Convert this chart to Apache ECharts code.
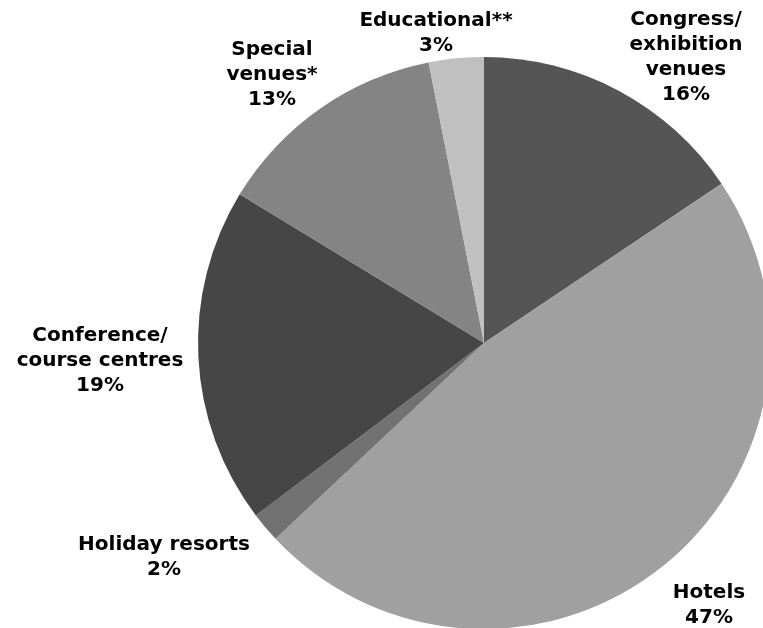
<!DOCTYPE html>
<html>
<head>
<meta charset="utf-8">
<script src="https://cdn.jsdelivr.net/npm/echarts@6/dist/echarts.min.js"></script>
<style>
	html, body { margin: 0; padding: 0; background: #fff; }
	#main { width: 763px; height: 628px; }
</style>
</head>
<body>
<div id="main"></div>
<script>
// venue categories, clockwise from 12 o'clock
var categories = ['Congress/\nexhibition\nvenues', 'Hotels', 'Holiday resorts', 'Conference/\ncourse centres', 'Special\nvenues*', 'Educational**'];
// shares (%)
var shares = [15.6, 47.4, 1.7, 19.0, 13.2, 3.1];
var colors = ['#555555', '#a0a0a0', '#727272', '#464646', '#848484', '#c0c0c0'];

// where each label block sits (centre, px)
var labelPos = [[686, 57], [709, 605], [164, 557], [100, 361], [272, 75], [436, 33]];

var myChart = echarts.init(document.getElementById('main'));
var option = {
	animation: false,
	series: [{
		type: 'pie',
		center: [484, 343],
		radius: 286,
		startAngle: 90,
		clockwise: true,
		data: categories.map(function(name, i) {
			return {
				name: name,
				value: shares[i],
				itemStyle: { color: colors[i] }
			};
		}),
		itemStyle: { borderWidth: 0 },
		label: {
			show: true,
			position: 'inside',
			overflow: 'none',
			fontFamily: 'DejaVu Sans',
			fontWeight: 'bold',
			fontSize: 20,
			lineHeight: 25,
			color: '#000',
			align: 'center',
			formatter: function(p) {
				return p.name + '\n' + Math.round(p.percent) + '%';
			}
		},
		labelLine: { show: false },
		labelLayout: function(p) {
			var pos = labelPos[p.dataIndex];
			return {
				x: pos[0],
				y: pos[1],
				align: 'center',
				verticalAlign: 'middle'
			};
		},
		emphasis: { disabled: true }
	}]
};
myChart.setOption(option);
</script>
</body>
</html>
